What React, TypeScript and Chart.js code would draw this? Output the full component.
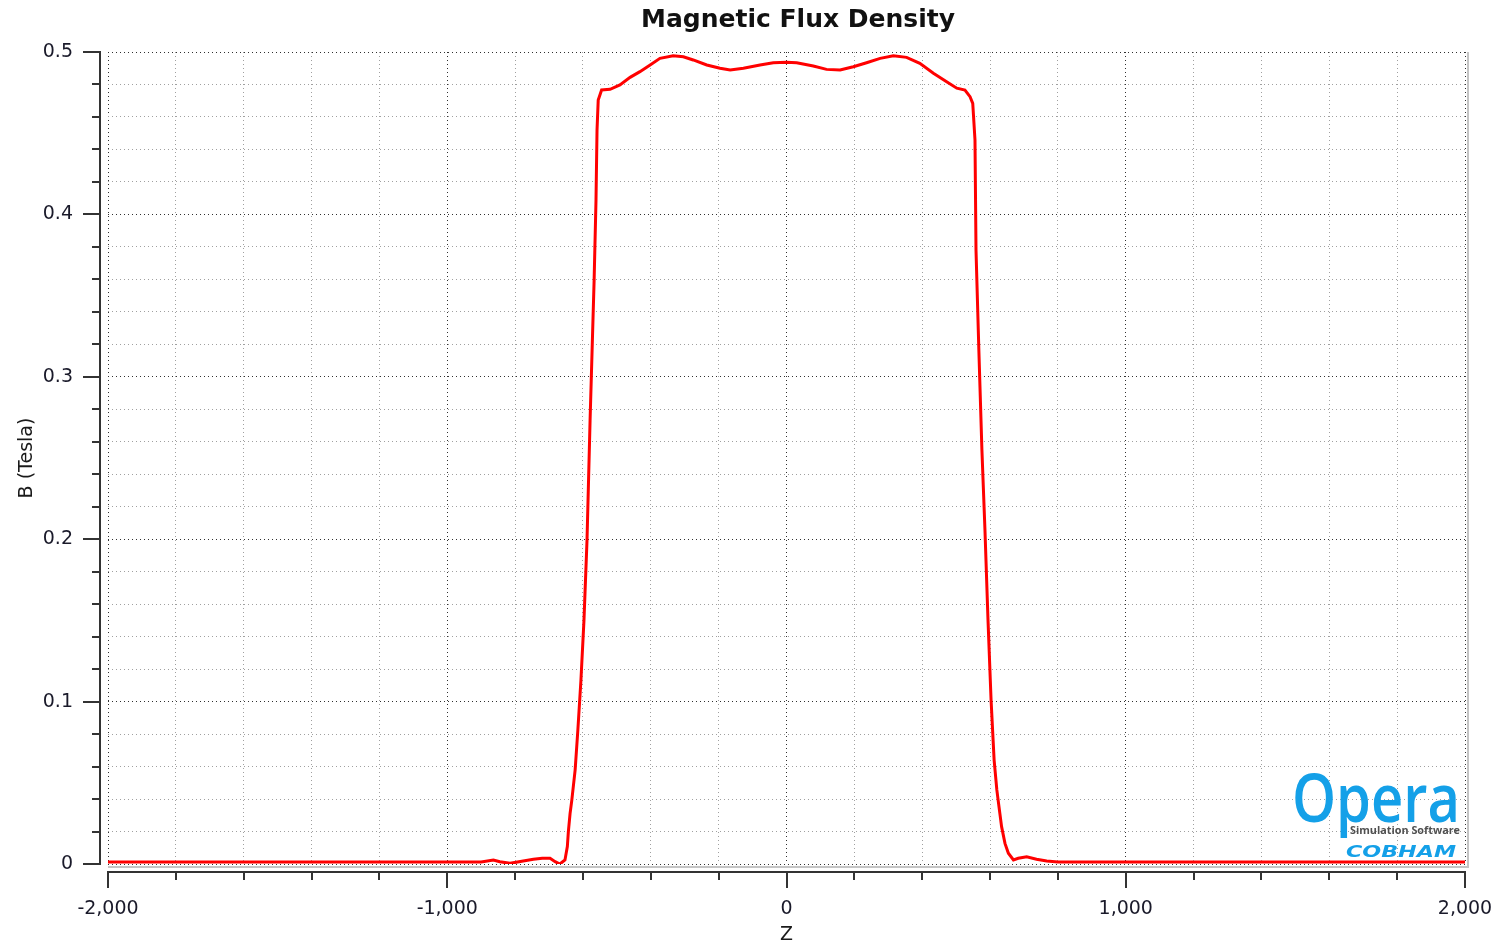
import React, { useEffect, useRef } from 'react';
import { Chart, registerables } from 'chart.js';

Chart.register(...registerables);

// ---- data ----
const chartTitle = 'Magnetic Flux Density';
const xAxisTitle = 'Z';
const yAxisTitle = 'B (Tesla)';

const zValues = [
  -2000, -1500, -1000, -900, -864, -845, -815, -776, -746, -720, -697, -682, -668, -653,
  -646, -643, -638, -633, -623, -615, -606, -597, -588, -579, -573, -567, -561.5, -558.5,
  -555, -545, -520, -491, -461, -432, -402, -373, -334, -304, -275, -235, -196, -166,
  -127, -78, -39, 0, 30, 79, 118, 158, 197, 236, 276, 315, 354, 393, 433, 472, 502, 526,
  541, 549, 555.6, 558.6, 567, 576, 585, 594, 603, 612, 620, 624, 629, 634, 644, 654, 669,
  683, 708, 737, 767, 800, 1000, 1500, 2000,
];
const bValues = [
  0.0012, 0.0012, 0.0012, 0.0012, 0.0025, 0.0014, 0.0004, 0.0018, 0.0029, 0.0035, 0.0035, 0.0014, 0.0, 0.0025,
  0.0107, 0.0199, 0.031, 0.039, 0.058, 0.0825, 0.113, 0.15, 0.1995, 0.273, 0.3165, 0.36, 0.409, 0.452,
  0.4704, 0.4766, 0.477, 0.4797, 0.4844, 0.4879, 0.492, 0.4961, 0.4977, 0.4971, 0.4951, 0.492, 0.49, 0.4889,
  0.49, 0.492, 0.4934, 0.4937, 0.4934, 0.4914, 0.4893, 0.4889, 0.4909, 0.4934, 0.4961, 0.4977, 0.4967, 0.493, 0.4869, 0.4817, 0.4777, 0.4766,
  0.4725, 0.4684, 0.4458, 0.378, 0.3165, 0.255, 0.2057, 0.15, 0.101, 0.064, 0.0456, 0.039, 0.031, 0.023, 0.0127, 0.0066, 0.0025,
  0.0035, 0.0045, 0.0029, 0.0018, 0.0012, 0.0012, 0.0012, 0.0012,
];

const xMin = -2000;
const xMax = 2000;
const xMinorStep = 200;
const xMajorStep = 1000;
const yMin = 0;
const yMax = 0.5;
const yMinorStep = 0.02;
const yMajorStep = 0.1;

const FONT = '"DejaVu Sans", Verdana, sans-serif';

const isMajor = (v: number, step: number) => Math.abs(v / step - Math.round(v / step)) < 1e-6;

const decorPlugin = {
  id: 'decor',
  beforeDatasetsDraw(chart: any) {
    const { ctx, chartArea: a } = chart;
    ctx.save();
    ctx.strokeStyle = '#c4c4c4';
    ctx.lineWidth = 2;
    ctx.beginPath();
    ctx.moveTo(a.left, a.bottom + 3);
    ctx.lineTo(a.right + 3, a.bottom + 3);
    ctx.lineTo(a.right + 3, a.top);
    ctx.stroke();
    ctx.restore();
  },
  afterDraw(chart: any) {
    const { ctx, chartArea: a, scales } = chart;
    const xs = scales.x;
    const ys = scales.y;
    ctx.save();
    ctx.strokeStyle = '#333333';
    ctx.lineWidth = 2;
    // y axis
    const axX = a.left - 8;
    ctx.beginPath();
    ctx.moveTo(axX, a.top - 1);
    ctx.lineTo(axX, a.bottom + 1);
    ctx.stroke();
    for (let v = yMin; v <= yMax + 1e-9; v += yMinorStep) {
      const py = Math.round(ys.getPixelForValue(v));
      const len = isMajor(v, yMajorStep) ? 17 : 8;
      ctx.beginPath();
      ctx.moveTo(axX, py);
      ctx.lineTo(axX - len, py);
      ctx.stroke();
    }
    // x axis
    const axY = a.bottom + 8;
    ctx.beginPath();
    ctx.moveTo(a.left - 1, axY);
    ctx.lineTo(a.right + 1, axY);
    ctx.stroke();
    for (let v = xMin; v <= xMax + 1e-9; v += xMinorStep) {
      const px = Math.round(xs.getPixelForValue(v));
      const len = isMajor(v, xMajorStep) ? 16 : 8;
      ctx.beginPath();
      ctx.moveTo(px, axY);
      ctx.lineTo(px, axY + len);
      ctx.stroke();
    }
    // title
    ctx.fillStyle = '#111111';
    ctx.font = `bold 25px ${FONT}`;
    ctx.textAlign = 'center';
    ctx.textBaseline = 'alphabetic';
    ctx.fillText(chartTitle, 798, 27);

    // logo
    const drawFit = (
      text: string,
      font: string,
      color: string,
      left: number,
      baseline: number,
      width: number,
      sy: number,
    ) => {
      ctx.font = font;
      ctx.fillStyle = color;
      ctx.textAlign = 'left';
      ctx.textBaseline = 'alphabetic';
      const w = ctx.measureText(text).width;
      ctx.save();
      ctx.translate(left, baseline);
      ctx.scale(width / w, sy);
      ctx.fillText(text, 0, 0);
      ctx.restore();
    };
    drawFit('Opera', `600 56px "Open Sans", sans-serif`, '#14a0e8', 1292, 822, 168, 1.2);
    drawFit('Simulation Software', `bold 10px "Open Sans", sans-serif`, '#505050', 1350, 834, 110, 1);
    drawFit('COBHAM', `italic 900 15px "DejaVu Sans", sans-serif`, '#14a0e8', 1346, 857, 110, 1);
    ctx.restore();
  },
};

export default function App() {
  const canvasRef = useRef<HTMLCanvasElement | null>(null);

  useEffect(() => {
    const canvas = canvasRef.current;
    if (!canvas) return;
    const points = zValues.map((z, i) => ({ x: z, y: bValues[i] }));
    const chart = new Chart(canvas, {
      type: 'line',
      data: {
        datasets: [
          {
            label: 'B',
            data: points,
            borderColor: '#ff0000',
            borderWidth: 3,
            pointRadius: 0,
            tension: 0,
            fill: false,
          },
        ],
      },
      options: {
        responsive: false,
        animation: false,
        layout: { padding: { top: 52, right: 34, bottom: 0, left: 0 } },
        plugins: {
          legend: { display: false },
          title: { display: false },
          tooltip: { enabled: false },
        },
        scales: {
          x: {
            type: 'linear',
            min: xMin,
            max: xMax,
            afterFit: (s: any) => {
              s.height = 83;
              s.paddingLeft = 0;
              s.paddingRight = 0;
            },
            border: { display: false, dash: [1, 3] },
            grid: {
              drawTicks: false,
              color: (c: any) => (isMajor(c.tick.value, xMajorStep) ? '#303030' : '#a0a0a0'),
              lineWidth: 1,
            },
            ticks: {
              stepSize: xMinorStep,
              maxTicksLimit: 1000,
              autoSkip: false,
              maxRotation: 0,
              padding: 34,
              color: '#1a1a2a',
              font: { family: FONT, size: 19 },
              callback: (v: any) => (isMajor(Number(v), xMajorStep) ? Number(v).toLocaleString('en-US') : ''),
            },
            title: {
              display: true,
              text: xAxisTitle,
              color: '#1a1a1a',
              font: { family: FONT, size: 19 },
              padding: { top: 0, bottom: 1 },
            },
          },
          y: {
            type: 'linear',
            min: yMin,
            max: yMax,
            afterFit: (s: any) => {
              s.width = 108;
              s.paddingTop = 0;
              s.paddingBottom = 0;
            },
            border: { display: false, dash: [1, 3] },
            grid: {
              drawTicks: false,
              color: (c: any) => (isMajor(c.tick.value, yMajorStep) ? '#303030' : '#a0a0a0'),
              lineWidth: 1,
            },
            ticks: {
              stepSize: yMinorStep,
              maxTicksLimit: 1000,
              autoSkip: false,
              padding: 35,
              color: '#1a1a2a',
              font: { family: FONT, size: 19 },
              callback: (v: any) => {
                const n = Number(v);
                if (!isMajor(n, yMajorStep)) return '';
                return n === 0 ? '0' : n.toFixed(1);
              },
            },
            title: {
              display: true,
              text: yAxisTitle,
              color: '#1a1a1a',
              font: { family: FONT, size: 19 },
              padding: { top: 16, bottom: 0 },
            },
          },
        },
      },
      plugins: [decorPlugin],
    });
    return () => chart.destroy();
  }, []);

  return (
    <div style={{ position: 'fixed', left: 0, top: 0, width: 1499, height: 947, background: '#ffffff' }}>
      <canvas ref={canvasRef} width={1499} height={947} />
    </div>
  );
}
